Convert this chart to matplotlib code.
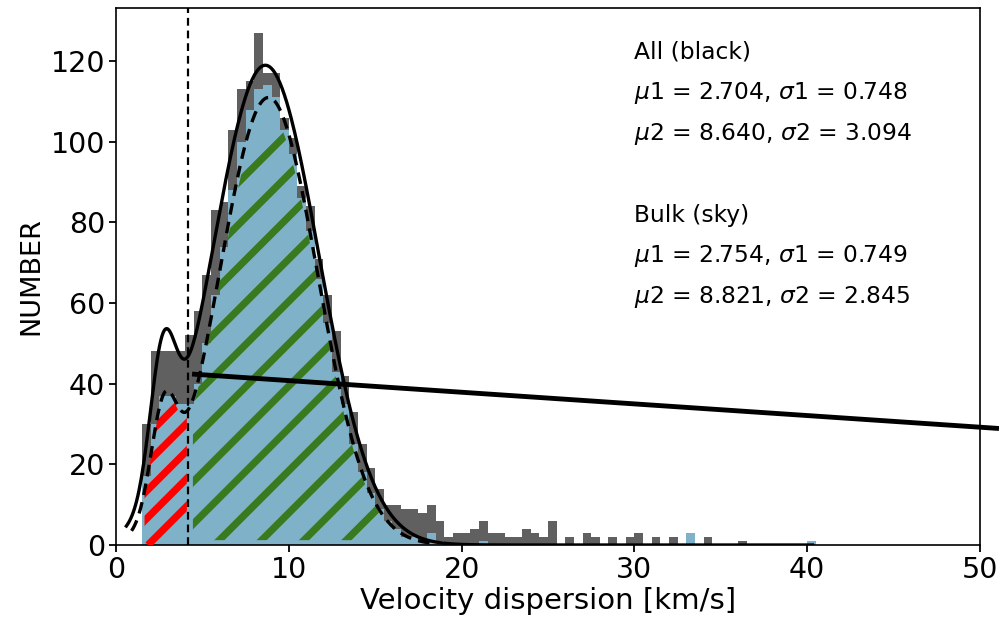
import numpy as np
import matplotlib
matplotlib.use("Agg")
import matplotlib.pyplot as plt
from matplotlib.path import Path
from matplotlib.patches import PathPatch

# ---------------- data ----------------
bin_start = 1.5
bin_width = 0.5
all_counts = [30, 48, 48, 48, 48, 52, 58, 67, 83, 85, 103, 113, 115, 127, 117, 117,
              106, 101, 89, 84, 71, 62, 53, 42, 33, 25, 19, 14, 10, 10, 9, 9,
              8, 10, 6, 2, 3, 3, 4, 6, 3, 3, 2, 2, 4, 3, 2, 6,
              0, 2, 0, 3, 2, 0, 2, 0, 2, 3, 0, 2, 0, 2, 0, 3,
              0, 2, 0, 0, 0, 1, 0, 0, 0, 0, 0, 0, 0, 1]
bulk_counts = [17, 30, 37, 37, 35, 35, 40, 50, 62, 74, 88, 100, 108, 113, 114, 111,
               103, 97, 86, 78, 66, 55, 43, 35, 25, 18, 13, 9, 6, 4, 2, 2,
               1, 3, 1, 0, 0, 0, 0, 1, 0, 0, 0, 0, 0, 0, 0, 0,
               0, 0, 0, 0, 0, 0, 0, 0, 0, 0, 0, 0, 0, 0, 0, 3,
               0, 0, 0, 0, 0, 0, 0, 0, 0, 0, 0, 0, 0, 1]

# two-Gaussian fits (parameters from the annotation, amplitudes)
fit_all = dict(mu1=2.704, s1=0.748, a1=33.5, mu2=8.640, s2=3.094, a2=119.0)
fit_bulk = dict(mu1=2.754, s1=0.749, a1=26.0, mu2=8.821, s2=2.845, a2=111.0)
fit_all_range = (0.6, 40.3)
fit_bulk_range = (0.9, 18.3)

split_x = 4.15           # vertical dashed separator
pointer_x = [4.4, 51.1]  # long black pointer line
pointer_y = [42.4, 28.9]

text_all = ["All (black)", r"$\mu1$ = 2.704, $\sigma1$ = 0.748", r"$\mu2$ = 8.640, $\sigma2$ = 3.094"]
text_bulk = ["Bulk (sky)", r"$\mu1$ = 2.754, $\sigma1$ = 0.749", r"$\mu2$ = 8.821, $\sigma2$ = 2.845"]

GRAY = "#606060"
SKY = "#7fb2c8"
GREEN = "#3a7a1e"
RED = "#ff0000"


def mix(x, p):
    return (p["a1"] * np.exp(-(x - p["mu1"]) ** 2 / (2 * p["s1"] ** 2))
            + p["a2"] * np.exp(-(x - p["mu2"]) ** 2 / (2 * p["s2"] ** 2)))


edges = bin_start + bin_width * np.arange(len(all_counts) + 1)

fig = plt.figure(figsize=(9.99, 6.26), dpi=100)
ax = fig.add_axes([116 / 999, 81 / 626, 864 / 999, 537 / 626])
ax.set_xlim(0, 50)
ax.set_ylim(0, 133.2)

ax.stairs(all_counts, edges, fill=True, color=GRAY, zorder=1)
ax.stairs(bulk_counts, edges, fill=True, color=SKY, zorder=2)

# diagonal hatch strokes at 45 degrees in screen space
p0 = ax.transData.transform((0, 0))
p1 = ax.transData.transform((1, 1))
k = (p1[0] - p0[0]) / (p1[1] - p0[1])


def hatch_region(x_lo, x_hi, inset, y_lo, intercepts, color):
    xs = np.linspace(x_lo, x_hi, 200)
    ys = np.maximum(mix(xs, fit_bulk) * inset - 0.5, y_lo)
    verts = [(x_lo, y_lo)] + list(zip(xs, ys)) + [(x_hi, y_lo), (x_lo, y_lo)]
    codes = [Path.MOVETO] + [Path.LINETO] * (len(verts) - 2) + [Path.CLOSEPOLY]
    patch = PathPatch(Path(verts, codes), facecolor="none", edgecolor="none",
                      transform=ax.transData)
    ax.add_patch(patch)
    for c in intercepts:
        xl = np.array([c, c + 40])
        ln, = ax.plot(xl, k * (xl - c), color=color, lw=5.2, solid_capstyle="butt", zorder=3)
        ln.set_clip_path(patch)


hatch_region(4.45, 17.0, 0.97, 1.2, np.arange(-13.9, 14.0, 2.45), GREEN)
hatch_region(1.65, 4.1, 0.99, -1.0, np.arange(1.85, -5.0, -1.6), RED)

xa = np.linspace(*fit_all_range, 600)
xb = np.linspace(*fit_bulk_range, 400)
ax.plot(xa, mix(xa, fit_all), color="black", lw=2.4, zorder=4)
ax.plot(xb, mix(xb, fit_bulk), color="black", lw=2.4, ls=(0, (3.5, 2.2)), zorder=4)

ax.axvline(split_x, color="black", lw=1.6, ls=(0, (3.5, 2.2)), zorder=5)

ax.plot(pointer_x, pointer_y, color="black", lw=3.5, clip_on=False, zorder=6,
        solid_capstyle="butt")

for i, t in enumerate(text_all):
    ax.text(30.0, 122.2 - 10.1 * i, t, fontsize=16.8, va="center", ha="left")
for i, t in enumerate(text_bulk):
    ax.text(30.0, 81.8 - 10.1 * i, t, fontsize=16.8, va="center", ha="left")

ax.set_xticks([0, 10, 20, 30, 40, 50])
ax.set_yticks([0, 20, 40, 60, 80, 100, 120])
ax.tick_params(labelsize=20.5, length=5, width=1.3, pad=3)
for s in ax.spines.values():
    s.set_linewidth(1.2)
ax.set_xlabel("Velocity dispersion [km/s]", fontsize=21, labelpad=2)
ax.set_ylabel("NUMBER", fontsize=19.5, labelpad=4)

fig.savefig("out.png", dpi=100)
